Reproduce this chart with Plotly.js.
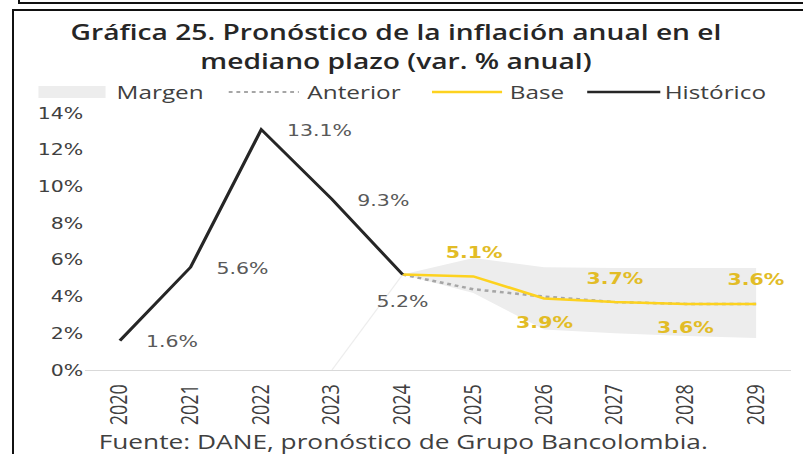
<!DOCTYPE html>
<html>
<head>
<meta charset="utf-8">
<script src="https://cdn.plot.ly/plotly-3.0.1.min.js"></script>
<style>
  html, body { margin:0; padding:0; background:#fff; }
  #wrap { position:relative; width:803px; height:454px; overflow:hidden; background:#fff; }
  #chart { position:absolute; left:0; top:0; width:627px; height:454px; transform-origin:0 0; }
  #frameA { position:absolute; left:18px; top:-2px; right:-5px; height:4px; border-bottom:2px solid #111; border-left:2px solid #111; }
  #frameB { position:absolute; left:12px; top:9px; right:-5px; bottom:-5px; border-top:2px solid #111; border-left:2px solid #111; }
</style>
</head>
<body>
<div id="wrap">
  <div id="chart"></div>
  <div id="frameA"></div>
  <div id="frameB"></div>
</div>
<script>
// ---- data ----
const years = ['2020','2021','2022','2023','2024','2025','2026','2027','2028','2029'];
const histYears = ['2020','2021','2022','2023','2024'];
const historico = [1.6, 5.6, 13.1, 9.3, 5.2];
const fcYears = ['2024','2025','2026','2027','2028','2029'];
const base = [5.2, 5.1, 3.9, 3.7, 3.6, 3.6];
const anterior = [5.2, 4.4, 4.0, 3.7, 3.6, 3.6];
const margenSup = [5.2, 6.1, 5.6, 5.55, 5.55, 5.55];
const margenInf = [5.2, 4.2, 2.2, 2.0, 1.85, 1.75];
const margenBaseYears = ['2023','2024'];
const margenBase = [0, 5.2];
const histLabels = ['1.6%','5.6%','13.1%','9.3%','5.2%'];
const baseLabelYears = ['2025','2026','2027','2028','2029'];
const baseLabelVals = [5.1, 3.9, 3.7, 3.6, 3.6];
const baseLabels = ['5.1%','3.9%','3.7%','3.6%','3.6%'];
const baseLabelSide = [1, -1, 1, -1, 1];

// ---- geometry (reference is horizontally stretched; draw narrow then scale) ----
const W = 803, H = 454, Wi = 627, S = W / Wi;
document.getElementById('chart').style.transform = 'scaleX(' + S + ')';
const L = 85, R = 12, T = 113, B = 84;          // in final (real) pixels
const pw = W - L - R, ph = H - T - B;
const px = v => (v - L) / pw;
const py = v => (H - B - v) / ph;
const catIdx = yr => years.indexOf(yr);

const traces = [
  { x: margenBaseYears, y: margenBase, type:'scatter', mode:'lines',
    line:{color:'#ededed', width:1}, hoverinfo:'skip', showlegend:false },
  { x: fcYears, y: margenInf, type:'scatter', mode:'lines',
    line:{width:0, color:'rgba(0,0,0,0)'}, showlegend:false, name:'inf' },
  { x: fcYears, y: margenSup, type:'scatter', mode:'lines', fill:'tonexty',
    fillcolor:'#EDEDED', line:{width:0, color:'rgba(0,0,0,0)'}, name:'Margen', showlegend:false },
  { x: fcYears, y: anterior, type:'scatter', mode:'lines',
    line:{color:'#A6A6A6', width:2.5, dash:'dot'}, name:'Anterior', showlegend:false },
  { x: fcYears, y: base, type:'scatter', mode:'lines',
    line:{color:'#FDD21F', width:2.5}, name:'Base', showlegend:false },
  { x: histYears, y: historico, type:'scatter', mode:'lines',
    line:{color:'#262626', width:2.6}, name:'Histórico', showlegend:false }
];

const annotations = [];
histYears.forEach((yr, i) => {
  const isLast = i === histYears.length - 1;
  annotations.push({
    x: catIdx(yr), y: historico[i], xref:'x', yref:'y', text: histLabels[i], showarrow:false,
    xanchor: isLast ? 'center' : 'left', yanchor:'middle',
    xshift: isLast ? 0 : 23 / S, yshift: isLast ? -27 : -1,
    font:{family:'DejaVu Sans', size:16, color:'#595959'}
  });
});
baseLabelYears.forEach((yr, i) => {
  annotations.push({
    x: catIdx(yr), y: baseLabelVals[i], xref:'x', yref:'y', text: baseLabels[i], showarrow:false,
    xanchor:'center', yanchor:'middle', yshift: 24 * baseLabelSide[i],
    font:{family:'DejaVu Sans', size:16, color:'#E2BC26', weight:'bold'}
  });
});

// legend (manual, Excel-like)
const legY = py(92);
const legFont = {family:'Open Sans', size:19, color:'#404040'};
[['Margen',117],['Anterior',308],['Base',509],['Histórico',665]].forEach(([t, x]) => {
  annotations.push({ x: px(x), y: legY, xref:'paper', yref:'paper', text:t, showarrow:false,
    xanchor:'left', yanchor:'middle', font: legFont, xshift:-2 });
});
// footer
annotations.push({ x: px(403), y: py(441), xref:'paper', yref:'paper',
  text:'Fuente: DANE, pronóstico de Grupo Bancolombia.', showarrow:false,
  xanchor:'center', yanchor:'middle', font:{family:'Open Sans', size:20.5, color:'#404040'} });

const shapes = [
  { type:'rect', xref:'paper', yref:'paper', x0:px(39), x1:px(106), y0:py(98), y1:py(86),
    fillcolor:'#EDEDED', line:{width:0} },
  { type:'line', xref:'paper', yref:'paper', x0:px(229), x1:px(299), y0:legY, y1:legY,
    line:{color:'#A6A6A6', width:2, dash:'dot'} },
  { type:'line', xref:'paper', yref:'paper', x0:px(432), x1:px(502), y0:legY, y1:legY,
    line:{color:'#FDD21F', width:2.5} },
  { type:'line', xref:'paper', yref:'paper', x0:px(587), x1:px(660), y0:legY, y1:legY,
    line:{color:'#262626', width:2.5} }
];

const layout = {
  width: Wi, height: H,
  margin: {l:L / S, r:R / S, t:T, b:B, pad:0},
  paper_bgcolor:'rgba(0,0,0,0)', plot_bgcolor:'rgba(0,0,0,0)',
  showlegend:false,
  title: {
    text:'Gráfica 25. Pronóstico de la inflación anual en el<br>mediano plazo (var. % anual)',
    font:{family:'Open Sans', size:22, color:'#262626', weight:600},
    xref:'container', x: 396/W, xanchor:'center',
    yref:'container', y: 1 - 40/H, yanchor:'top'
  },
  xaxis: {
    type:'category', categoryorder:'array', categoryarray: years,
    range:[-0.5, 9.5], tickangle:-90,
    tickfont:{family:'Open Sans', size:18, color:'#404040'},
    showgrid:false, zeroline:false, showline:true, linecolor:'#D9D9D9', linewidth:1,
    ticks:'', ticklabelstandoff:6, fixedrange:true
  },
  yaxis: {
    range:[0, 14], dtick:2, tick0:0, ticksuffix:'%',
    tickfont:{family:'DejaVu Sans', size:16, color:'#404040'},
    showgrid:false, zeroline:false, showline:false, ticks:'',
    ticklabelstandoff:24 / S, fixedrange:true
  },
  annotations, shapes
};

Plotly.newPlot('chart', traces, layout, {displayModeBar:false, staticPlot:true});
</script>
</body>
</html>
